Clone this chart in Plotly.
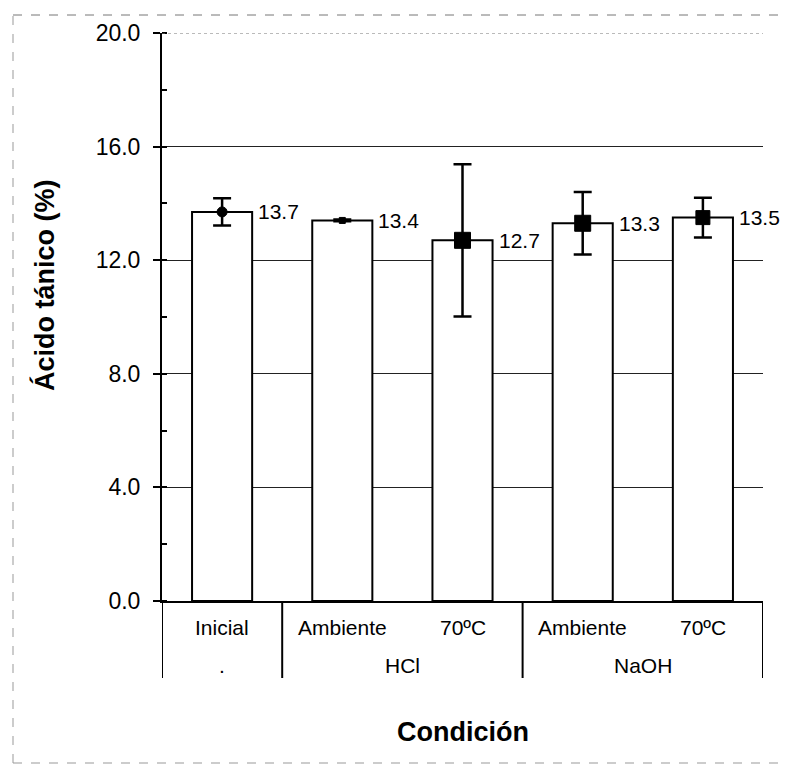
import plotly.graph_objects as go

groups = [".", "HCl", "HCl", "NaOH", "NaOH"]
conditions = ["Inicial", "Ambiente", "70ºC", "Ambiente", "70ºC"]
values = [13.7, 13.4, 12.7, 13.3, 13.5]
errors = [0.48, 0.03, 2.68, 1.1, 0.7]
value_labels = ["13.7", "13.4", "12.7", "13.3", "13.5"]
marker_symbols = ["circle", "square", "square", "square", "square"]
marker_sizes = [10, 6, 16, 16, 14]
y_ticks = [0, 4, 8, 12, 16, 20]
y_tick_labels = ["0.0", "4.0", "8.0", "12.0", "16.0", "20.0"]

FONT = "Liberation Sans, Arial, sans-serif"
# page body has an 8px margin: figure is sized so the plot lands where the reference has it
FIG_W, FIG_H = 781, 760
M_L, M_R, M_T, M_B = 154, 26, 25, 167
PLOT_W = FIG_W - M_L - M_R
PLOT_H = FIG_H - M_T - M_B

fig = go.Figure()
fig.add_trace(go.Bar(
    x=[groups, conditions], y=values,
    width=0.5,
    marker=dict(color="white", line=dict(color="black", width=2)),
    showlegend=False, hoverinfo="skip",
))
fig.add_trace(go.Scatter(
    x=[groups, conditions], y=values,
    mode="markers",
    marker=dict(symbol=marker_symbols, size=marker_sizes, color="black", opacity=1,
                line=dict(color="black", width=1)),
    error_y=dict(type="data", array=errors, visible=True,
                 color="black", thickness=2.5, width=9),
    showlegend=False, hoverinfo="skip",
))

annotations = []
# value labels beside each bar top
for i, (v, lab) in enumerate(zip(values, value_labels)):
    annotations.append(dict(
        x=i, y=v, xref="x", yref="y", text=lab, showarrow=False,
        xanchor="left", yanchor="middle", xshift=34,
        font=dict(family=FONT, size=21, color="black"),
    ))
# inner category labels
for i, c in enumerate(conditions):
    annotations.append(dict(
        x=i, y=0, xref="x", yref="paper", text=c, showarrow=False,
        xanchor="center", yanchor="middle", yshift=-26,
        font=dict(family=FONT, size=21, color="black"),
    ))
# outer group labels and dividers
shapes = []
group_spans = []
start = 0
for i in range(1, len(groups) + 1):
    if i == len(groups) or groups[i] != groups[start]:
        group_spans.append((groups[start], start, i - 1))
        start = i
boundaries = set()
for name, a, b in group_spans:
    annotations.append(dict(
        x=(a + b) / 2, y=0, xref="x", yref="paper", text=name, showarrow=False,
        xanchor="center", yanchor="middle", yshift=-64,
        font=dict(family=FONT, size=21, color="black"),
    ))
    boundaries.add(a - 0.5)
    boundaries.add(b + 0.5)
for bx in sorted(boundaries):
    shapes.append(dict(type="line", xref="x", yref="paper", x0=bx, x1=bx,
                       y0=0, y1=-77 / PLOT_H, line=dict(color="black", width=2)))

# axis titles
annotations.append(dict(
    x=0.5, y=0, xref="paper", yref="paper", text="<b>Condición</b>", showarrow=False,
    xanchor="center", yanchor="middle", yshift=-131,
    font=dict(family=FONT, size=27, color="black"),
))
annotations.append(dict(
    x=0, y=(601 - 285) / PLOT_H, xref="paper", yref="paper", text="<b>Ácido tánico (%)</b>",
    showarrow=False, textangle=-90, xanchor="center", yanchor="middle", xshift=-118,
    font=dict(family=FONT, size=27, color="black"),
))

# faint top gridline
shapes.append(dict(type="line", xref="paper", yref="y", x0=0, x1=1, y0=y_ticks[-1], y1=y_ticks[-1],
                   line=dict(color="#777", width=1, dash="dot")))
# dashed outer frame (top, left, bottom edges; right edge lies outside the picture)
fx0, fx1 = (13 - 162) / PLOT_W, (789 - 162) / PLOT_W
fy0, fy1 = (601 - 763) / PLOT_H, (601 - 15) / PLOT_H
for (a0, b0, a1, b1, col) in [(fx0, fy1, fx1, fy1, "#777"),
                              (fx0, fy0, fx0, fy1, "#999"),
                              (fx0, fy0, fx1, fy0, "#999")]:
    shapes.append(dict(type="line", xref="paper", yref="paper", x0=a0, y0=b0, x1=a1, y1=b1,
                       line=dict(color=col, width=1, dash="dash"), layer="below"))

fig.update_layout(
    width=FIG_W, height=FIG_H, autosize=False,
    margin=dict(l=M_L, r=M_R, t=M_T, b=M_B),
    paper_bgcolor="white", plot_bgcolor="white",
    font=dict(family=FONT, color="black"),
    annotations=annotations,
    shapes=shapes,
    xaxis=dict(
        type="multicategory", range=[-0.5, 4.5],
        showline=True, linecolor="black", linewidth=2,
        showdividers=False, showticklabels=False,
        ticks="", showgrid=False,
    ),
    yaxis=dict(
        range=[0, 20], tickvals=y_ticks, ticktext=y_tick_labels,
        showline=True, linecolor="black", linewidth=2,
        ticks="outside", ticklen=7, tickwidth=2, tickcolor="black",
        ticklabelstandoff=8,
        minor=dict(dtick=2, ticks="inside", ticklen=5, tickwidth=1.5, tickcolor="black", showgrid=False),
        showgrid=True, gridcolor="#222", gridwidth=1,
        zeroline=False,
        tickfont=dict(family=FONT, size=23, color="black"),
    ),
)

fig.write_html("out.html")
